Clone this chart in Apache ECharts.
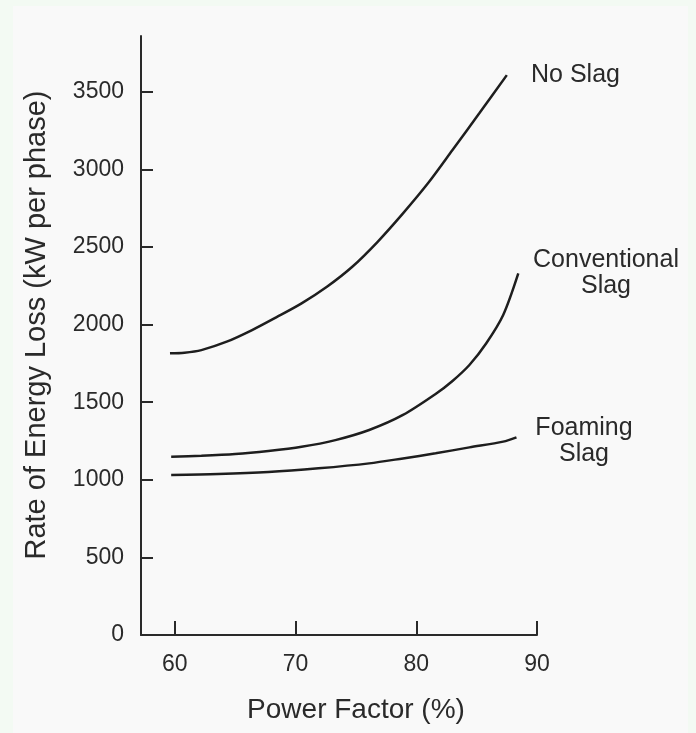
<!DOCTYPE html>
<html>
<head>
<meta charset="utf-8">
<script src="https://cdn.jsdelivr.net/npm/echarts@6/dist/echarts.min.js"></script>
<style>
html,body{margin:0;padding:0;background:#f3faf3;}
#chart{width:696px;height:733px;}
</style>
</head>
<body>
<div id="chart"></div>
<script>
var xTicks = [60, 70, 80, 90];
var yTicks = [0, 500, 1000, 1500, 2000, 2500, 3000, 3500];

var noSlagX = [59.6, 60.8, 62.2, 64.3, 66.4, 68.4, 70.5, 72.6, 74.7, 76.8, 78.9, 81.0, 83.0, 85.25, 87.5];
var noSlagY = [1815, 1819, 1836, 1890, 1965, 2047, 2137, 2244, 2373, 2534, 2717, 2914, 3125, 3365, 3608];

var convX = [59.7, 62.2, 65.0, 67.75, 70.5, 73.3, 76.1, 78.9, 81.6, 83.0, 84.4, 85.8, 87.2, 88.45];
var convY = [1149, 1155, 1166, 1186, 1213, 1256, 1321, 1418, 1553, 1637, 1740, 1880, 2062, 2330];

var foamX = [59.7, 63.6, 67.75, 71.9, 76.1, 78.9, 81.6, 84.4, 87.2, 88.3];
var foamY = [1031, 1037, 1050, 1074, 1106, 1138, 1171, 1209, 1246, 1274];

var xName = 'Power Factor (%)';
var yName = 'Rate of Energy Loss (kW per phase)';

function pairs(xs, ys) { return xs.map(function (x, i) { return [x, ys[i]]; }); }

var chart = echarts.init(document.getElementById('chart'));
var font = '"Liberation Sans", Arial, sans-serif';
var txt = '#2a2a2a';
var lineStyle = { color: '#1e1e1e', width: 2.5 };

function mkSeries(name, xs, ys) {
  return {
    name: name, type: 'line', data: pairs(xs, ys), smooth: 0.3,
    showSymbol: false, symbol: 'none', lineStyle: lineStyle, z: 5
  };
}

chart.setOption({
  backgroundColor: '#f3faf3',
  animation: false,
  graphic: [
    { type: 'rect', z: -10, shape: { x: 13, y: 6, width: 675, height: 727 }, style: { fill: '#f9f9f9' } },
    { type: 'text', x: 531, y: 75, style: { text: 'No Slag', font: '25px ' + font, fill: txt, align: 'left', verticalAlign: 'middle' } },
    { type: 'text', x: 606, y: 260, style: { text: 'Conventional', font: '25px ' + font, fill: txt, align: 'center', verticalAlign: 'middle' } },
    { type: 'text', x: 606, y: 286, style: { text: 'Slag', font: '25px ' + font, fill: txt, align: 'center', verticalAlign: 'middle' } },
    { type: 'text', x: 584, y: 428, style: { text: 'Foaming', font: '25px ' + font, fill: txt, align: 'center', verticalAlign: 'middle' } },
    { type: 'text', x: 584, y: 454, style: { text: 'Slag', font: '25px ' + font, fill: txt, align: 'center', verticalAlign: 'middle' } },
    { type: 'text', x: 356, y: 710, style: { text: xName, font: '28px ' + font, fill: txt, align: 'center', verticalAlign: 'middle' } },
    { type: 'text', x: 37, y: 325, rotation: Math.PI / 2, style: { text: yName, font: '29px ' + font, fill: txt, align: 'center', verticalAlign: 'middle' } }
  ],
  grid: { left: 141, right: 159, top: 36, bottom: 98, containLabel: false },
  xAxis: {
    type: 'value', min: 57.2, max: 90,
    axisLine: { show: true, lineStyle: { color: '#2a2a2a', width: 2 } },
    axisTick: { show: true, inside: true, length: 14, customValues: xTicks, lineStyle: { color: '#2a2a2a', width: 2 } },
    axisLabel: { customValues: xTicks, fontFamily: font, fontSize: 23, color: txt, margin: 18 },
    splitLine: { show: false }
  },
  yAxis: {
    type: 'value', min: 0, max: 3860,
    axisLine: { show: true, lineStyle: { color: '#2a2a2a', width: 2 } },
    axisTick: { show: true, inside: true, length: 12, customValues: yTicks, lineStyle: { color: '#2a2a2a', width: 2 } },
    axisLabel: { customValues: yTicks, fontFamily: font, fontSize: 23, color: txt, margin: 17,
      formatter: function (v) { return String(v); } },
    splitLine: { show: false }
  },
  series: [
    mkSeries('No Slag', noSlagX, noSlagY),
    mkSeries('Conventional Slag', convX, convY),
    mkSeries('Foaming Slag', foamX, foamY)
  ]
});
</script>
</body>
</html>
